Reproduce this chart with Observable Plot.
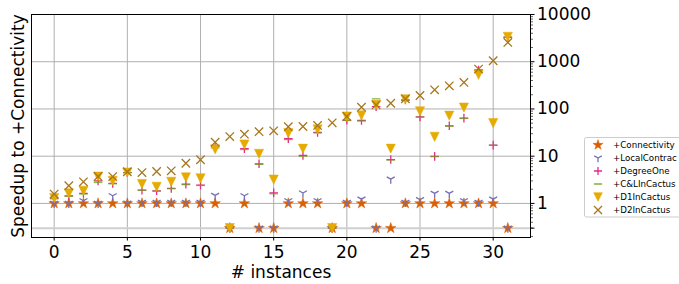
<!DOCTYPE html>
<html><head><meta charset="utf-8">
<script src="https://cdn.jsdelivr.net/npm/d3@7"></script>
<script src="https://cdn.jsdelivr.net/npm/@observablehq/plot@0.6"></script>
<style>
body{margin:0;background:#fff;}
#wrap{position:relative;width:679px;height:284px;overflow:hidden;font-family:"DejaVu Sans",sans-serif;}
#legend{position:absolute;left:0;top:0;}
</style>
</head><body><div id="wrap"></div>
<script>
const T = "Timeout";
const instances = [0,1,2,3,4,5,6,7,8,9,10,11,12,13,14,15,16,17,18,19,20,21,22,23,24,25,26,27,28,29,30,31];
const seriesNames = ["+Connectivity","+LocalContrac","+DegreeOne","+C&LInCactus","+D1InCactus","+D2InCactus"];
const connectivity = [1,1,1,1,1,1,1,1,1,1,1,1,T,1,T,T,1,1,1,T,1,1,T,T,1,1,1,1,1,1,1,T];
const localContrac = [1,1,1.14,1,1.45,1.02,1.05,1.05,1.05,1.05,1.05,1.48,T,1.45,T,T,1.14,1.66,1.14,T,1.05,1.23,T,3.27,1.05,1.2,1.63,1.63,1.14,1.05,1.23,T];
const degreeOne = [1.3,1.45,1.63,3.0,2.65,4.5,1.91,1.85,2.08,2.56,2.45,16,T,14.4,6.9,1.68,23.4,10.4,32,T,58,57,112,8.5,155,68,9.9,44,64,670,17.2,3300];
const clInCactus = [1.25,1.42,1.58,2.78,2.6,4.5,1.9,1.82,2.05,2.5,2.4,15,T,13.8,6.7,1.6,22.5,10,31,T,57,56,164,8.3,153,67,9.8,43,63,660,17,3300];
const d1InCactus = [1.3,1.63,1.85,3.7,3.0,4.5,2.57,2.25,2.87,3.55,3.4,13.9,T,17.7,11.2,3.2,30.7,14.4,36.8,T,69,73,122,14.4,160,89,25.7,72,107,530,50,3370];
const d2InCactus = [1.58,2.37,2.87,3.73,3.7,4.68,4.5,4.75,4.9,7.1,8.4,19.8,26,29.3,33,34.5,42,42.5,44.8,50.9,69.4,109,122,132,164,193,254,309,364,698,1050,2560];
const xTicks = [0,5,10,15,20,25,30];
const yTicks = [0.3,1,10,100,1000,10000];
const yTickLabels = ["Timeout","1","10","100","1000","10000"];
const TIMEOUT_POS = 0.3;

const colors = ["#d95f02","#7570b3","#e7298a","#66a61e","#e6ab02","#a6761d"];

const rOf = size => Math.sqrt(size / Math.PI);
const symStar = {draw(ctx, size){ const R = rOf(size), r = R*0.382;
  for (let k=0;k<10;k++){ const rr = k%2?r:R; const a = -Math.PI/2 + k*Math.PI/5;
    const x = rr*Math.cos(a), y = rr*Math.sin(a); if(k===0) ctx.moveTo(x,y); else ctx.lineTo(x,y);} ctx.closePath(); }};
const symTriDown = {draw(ctx, size){ const r = rOf(size);
  ctx.moveTo(0,0); ctx.lineTo(0,r); ctx.moveTo(0,0); ctx.lineTo(-0.866*r,-0.5*r); ctx.moveTo(0,0); ctx.lineTo(0.866*r,-0.5*r); }};
const symPlus = {draw(ctx, size){ const r = rOf(size);
  ctx.moveTo(-r,0); ctx.lineTo(r,0); ctx.moveTo(0,-r); ctx.lineTo(0,r); }};
const symHLine = {draw(ctx, size){ const r = rOf(size); ctx.moveTo(-r,0); ctx.lineTo(r,0); }};
const symTriangleDown = {draw(ctx, size){ const r = rOf(size);
  ctx.moveTo(0,r); ctx.lineTo(-r,-r); ctx.lineTo(r,-r); ctx.closePath(); }};
const symX = {draw(ctx, size){ const r = rOf(size);
  ctx.moveTo(-r,-r); ctx.lineTo(r,r); ctx.moveTo(-r,r); ctx.lineTo(r,-r); }};

const series = [
  {name: seriesNames[0], values: connectivity, symbol: symStar, r: 5.6, filled: true},
  {name: seriesNames[1], values: localContrac, symbol: symTriDown, r: 4.6, filled: false},
  {name: seriesNames[2], values: degreeOne, symbol: symPlus, r: 4.3, filled: false},
  {name: seriesNames[3], values: clInCactus, symbol: symHLine, r: 4.3, filled: false},
  {name: seriesNames[4], values: d1InCactus, symbol: symTriangleDown, r: 4.6, filled: true},
  {name: seriesNames[5], values: d2InCactus, symbol: symX, r: 4.2, filled: false}
];
const toY = v => v === T ? TIMEOUT_POS : v;

const minorTicks = [];
for (let e = -1; e <= 3; e++) for (let m = 2; m <= 9; m++) { const v = m * Math.pow(10, e); if (v >= 0.19 && v <= 10000) minorTicks.push(v); }

const dotMarks = series.map((s, si) => Plot.dot(
  instances.map((x, i) => ({x, y: toY(s.values[i])})),
  s.filled
    ? {x: "x", y: "y", symbol: s.symbol, r: s.r, fill: colors[si], stroke: colors[si], strokeWidth: 0.5}
    : {x: "x", y: "y", symbol: s.symbol, r: s.r, fill: "none", stroke: colors[si], strokeWidth: 1.3, strokeOpacity: si === 3 ? 0.75 : 1}
));

const chart = Plot.plot({
  width: 679, height: 284,
  marginLeft: 31, marginTop: 14, marginRight: 149, marginBottom: 47,
  style: {fontFamily: "DejaVu Sans", fontSize: "17px", background: "white", overflow: "visible"},
  x: {domain: [-1.55, 32.55]},
  y: {type: "log", domain: [0.19, 10000]},
  marks: [
    Plot.gridX(xTicks, {stroke: "#b0b0b0", strokeOpacity: 1, strokeWidth: 1}),
    Plot.gridY(yTicks.slice(1), {stroke: "#b0b0b0", strokeOpacity: 1, strokeWidth: 1}),
    Plot.gridY([TIMEOUT_POS], {stroke: "#cfcfcf", strokeOpacity: 1, strokeWidth: 2}),
    ...dotMarks,
    Plot.frame({stroke: "black", strokeWidth: 1}),
    Plot.axisX(xTicks, {anchor: "bottom", tickSize: 3.5, tickPadding: 5, label: null, fontSize: 17, stroke: "black"}),
    Plot.axisY(minorTicks, {anchor: "right", tickSize: 2, tickFormat: () => "", label: null, strokeWidth: 0.6, stroke: "black"}),
    Plot.axisY(yTicks, {anchor: "right", tickSize: 3.5, tickPadding: 3, label: null, fontSize: 17, stroke: "black",
      tickFormat: v => yTickLabels[yTicks.indexOf(v)]}),
    Plot.text(["# instances"], {frameAnchor: "bottom", lineAnchor: "middle", textAnchor: "middle", dy: 35, fontSize: 17, fill: "black"}),
    Plot.text(["Speedup to +Connectivity"], {frameAnchor: "left", textAnchor: "middle", lineAnchor: "middle", rotate: -90, dx: -13, fontSize: 17, fill: "black"})
  ]
});
const wrap = document.getElementById("wrap");
wrap.appendChild(chart);

// legend
const lg = d3.select(wrap).append("svg").attr("id", "legend").attr("width", 679).attr("height", 284);
lg.append("rect").attr("x", 584.5).attr("y", 137.5).attr("width", 110).attr("height", 79.5)
  .attr("rx", 2).attr("fill", "white").attr("fill-opacity", 0.8).attr("stroke", "#cccccc");
series.forEach((s, si) => {
  const cy = 145 + 13 * si;
  const p = d3.symbol(s.symbol, Math.PI * (s.r * 0.95) ** 2)();
  const g = lg.append("g").attr("transform", `translate(598,${cy})`);
  if (s.filled) g.append("path").attr("d", p).attr("fill", colors[si]).attr("stroke", colors[si]).attr("stroke-width", 0.5);
  else g.append("path").attr("d", p).attr("fill", "none").attr("stroke", colors[si]).attr("stroke-width", 1.3);
  lg.append("text").attr("x", 613).attr("y", cy).attr("dy", "0.35em")
    .attr("font-family", "DejaVu Sans").attr("font-size", 8.7).attr("fill", "black").text(s.name);
});
</script>
</body></html>
